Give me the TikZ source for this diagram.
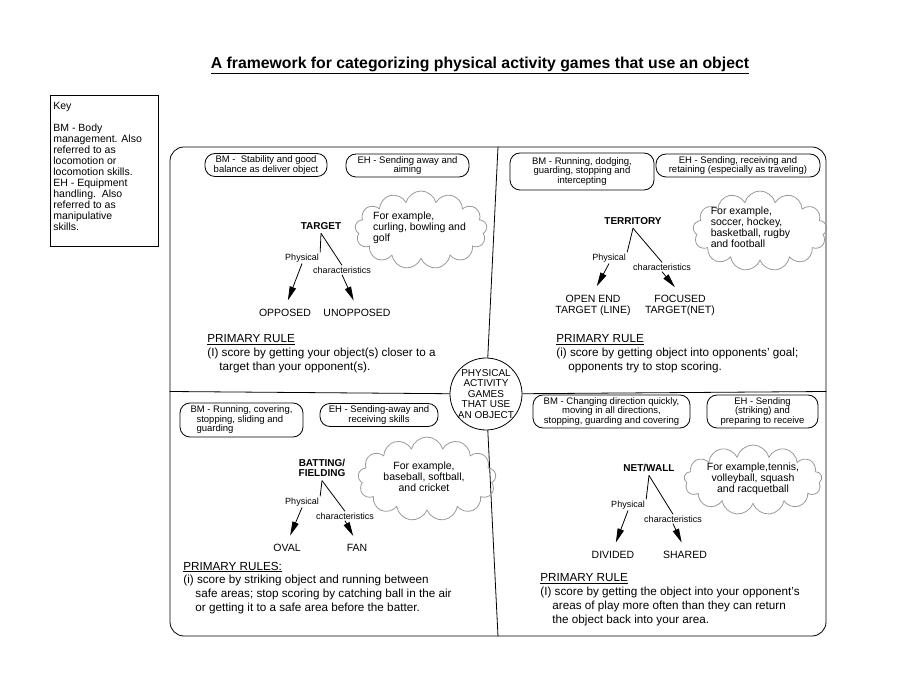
\documentclass[tikz,border=0pt]{standalone}
\usepackage{fontspec}
\setmainfont{Liberation Sans}
\usepackage{tikz}
\usetikzlibrary{arrows.meta,shapes.symbols}

\begin{document}
\begin{tikzpicture}[x=1pt,y=-1pt,line width=0.8pt,
        oval/.style={draw,rounded corners=10pt,align=center,inner sep=1pt,minimum height=23pt,font=\fontsize{9.5}{9.5}\selectfont},
        puff/.style={draw=gray!80,cloud,cloud puffs=13,cloud ignores aspect,inner sep=0pt},
        note/.style={font=\fontsize{10.5}{11}\selectfont,inner sep=0pt},
        kind/.style={align=center,font=\fontsize{10}{10.5}\selectfont\bfseries},
        trait/.style={inner sep=1pt,font=\fontsize{9}{9}\selectfont},
        leaf/.style={align=center,inner sep=1pt,font=\fontsize{10.5}{11}\selectfont},
        rule/.style={anchor=north west,align=left,inner sep=0pt,font=\fontsize{11.7}{13.8}\selectfont},
        tip/.style={-{Triangle[length=14pt,width=6.5pt]},shorten >=8pt}]
        \useasboundingbox (0,0) rectangle (900,700);
        \node [font=\fontsize{15.8}{18}\selectfont\bfseries] (title) at (480,65) {\underline{A framework for categorizing physical activity games that use an object}};
        \node [draw,anchor=north west,minimum width=108pt,minimum height=151pt] (key) at (50,95) {};
        \node [anchor=north west,align=left,inner sep=3pt,font=\fontsize{10.5}{11}\selectfont] (keytext) at ([yshift=-4pt]key.north west) {Key\\[11pt]BM - Body\\management. Also\\referred to as\\locomotion or\\locomotion skills.\\EH - Equipment\\handling.\ \ Also\\referred to as\\manipulative\\skills.};
        \node [draw,rounded corners=14pt,minimum width=656pt,minimum height=489pt] (frame) at (498,391.5) {};
        \node [draw,circle,minimum size=72pt,inner sep=-1pt,align=center,font=\fontsize{10}{10.5}\selectfont] (hub) at (486,394) {PHYSICAL\\ACTIVITY\\GAMES\\THAT USE\\AN OBJECT};
        \draw [-] (frame.north) to (hub);
        \draw [-] (hub) to (frame.south);
        \draw [-] (frame.west) to (hub);
        \draw [-] (hub) to (frame.east);

        \node [oval,minimum width=122pt] (tlbm) at (266,165) {BM -\ \ Stability and good\\balance as deliver object};
        \node [oval,minimum width=123pt] (tleh) at (407.5,165.5) {EH - Sending away and\\aiming};
        \node [puff,minimum width=132pt,minimum height=78pt] (tlcloud) at (421,230) {};
        \node [note,align=left] (tlnote) at (419.5,227.5) {For example,\\curling, bowling and\\golf};
        \node [kind] (target) at (321,226) {TARGET};
        \node [trait] (tlphys) at (302,258) {Physical};
        \node [trait] (tlchar) at (342,270) {characteristics};
        \node [leaf] (opposed) at (285,313) {OPPOSED};
        \node [leaf] (unopposed) at (357,313) {UNOPPOSED};
        \draw [-] (target.south) to (tlphys.north east);
        \draw [-] (target.south) to (tlchar.north);
        \draw [tip] (tlphys.south) to (opposed.north);
        \draw [tip] (tlchar.south) to (unopposed.north);
        \node [rule] (tlrule) at (207,334.5) {\underline{PRIMARY RULE}\\(I) score by getting your object(s) closer to a\\\hspace*{12pt}target than your opponent(s).};

        \node [oval,minimum width=144pt,minimum height=37pt] (trbm) at (582,171.5) {BM - Running, dodging,\\guarding, stopping and\\intercepting};
        \node [oval,minimum width=164pt] (treh) at (738,165.5) {EH - Sending, receiving and\\retaining (especially as traveling)};
        \node [puff,minimum width=134pt,minimum height=80pt] (trcloud) at (760,231) {};
        \node [note,align=left] (trnote) at (750.5,227.5) {For example,\\soccer, hockey,\\basketball, rugby\\and football};
        \node [kind] (territory) at (633,221) {TERRITORY};
        \node [trait] (trphys) at (609,258) {Physical};
        \node [trait] (trchar) at (662,267) {characteristics};
        \node [leaf] (openend) at (593,305) {OPEN END\\TARGET (LINE)};
        \node [leaf] (focused) at (680,305) {FOCUSED\\TARGET(NET)};
        \draw [-] (territory.south) to (trphys.north east);
        \draw [-] (territory.south) to (trchar.north);
        \draw [tip] (trphys.south) to (openend.north);
        \draw [tip] (trchar.south) to (focused.north);
        \node [rule] (trrule) at (556,334.5) {\underline{PRIMARY RULE}\\(i) score by getting object into opponents' goal;\\\hspace*{12pt}opponents try to stop scoring.};

        \node [oval,minimum width=123pt,minimum height=34pt,align=left] (blbm) at (241.5,420) {BM - Running, covering,\\\hspace*{6pt}stopping, sliding and\\\hspace*{6pt}guarding};
        \node [oval,minimum width=118pt] (bleh) at (379,415) {EH - Sending-away and\\receiving skills};
        \node [puff,minimum width=138pt,minimum height=84pt] (blcloud) at (427,479) {};
        \node [note,align=center] (blnote) at (424,477) {For example,\\baseball, softball,\\and cricket};
        \node [kind] (batting) at (322,468) {BATTING/\\FIELDING};
        \node [trait] (blphys) at (302,502) {Physical};
        \node [trait] (blchar) at (345,516) {characteristics};
        \node [leaf] (ovalfield) at (287,548) {OVAL};
        \node [leaf] (fan) at (357,548) {FAN};
        \draw [-] (batting.south) to (blphys.north east);
        \draw [-] (batting.south) to (blchar.north);
        \draw [tip] (blphys.south) to (ovalfield.north);
        \draw [tip] (blchar.south) to (fan.north);
        \node [rule] (blrule) at (183,561.5) {\underline{PRIMARY RULES:}\\(i) score by striking object and running between\\\hspace*{12pt}safe areas; stop scoring by catching ball in the air\\\hspace*{12pt}or getting it to a safe area before the batter.};

        \node [oval,minimum width=157pt,minimum height=33pt] (brbm) at (611.5,411.5) {BM - Changing direction quickly,\\moving in all directions,\\stopping, guarding and covering};
        \node [oval,minimum width=111pt,minimum height=33pt] (breh) at (762.5,411.5) {EH - Sending\\(striking) and\\preparing to receive};
        \node [puff,minimum width=138pt,minimum height=70pt] (brcloud) at (753,480) {};
        \node [note,align=center] (brnote) at (753,479) {For example,tennis,\\volleyball, squash\\and racquetball};
        \node [kind] (netwall) at (649,468) {NET/WALL};
        \node [trait] (brphys) at (628,505) {Physical};
        \node [trait] (brchar) at (673,519) {characteristics};
        \node [leaf] (divided) at (613,555) {DIVIDED};
        \node [leaf] (shared) at (685,555) {SHARED};
        \draw [-] (netwall.south) to (brphys.north east);
        \draw [-] (netwall.south) to (brchar.north);
        \draw [tip] (brphys.south) to (divided.north);
        \draw [tip] (brchar.south) to (shared.north);
        \node [rule] (brrule) at (540,573.5) {\underline{PRIMARY RULE}\\(I) score by getting the object into your opponent's\\\hspace*{12pt}areas of play more often than they can return\\\hspace*{12pt}the object back into your area.};
      \end{tikzpicture}
\end{document}
